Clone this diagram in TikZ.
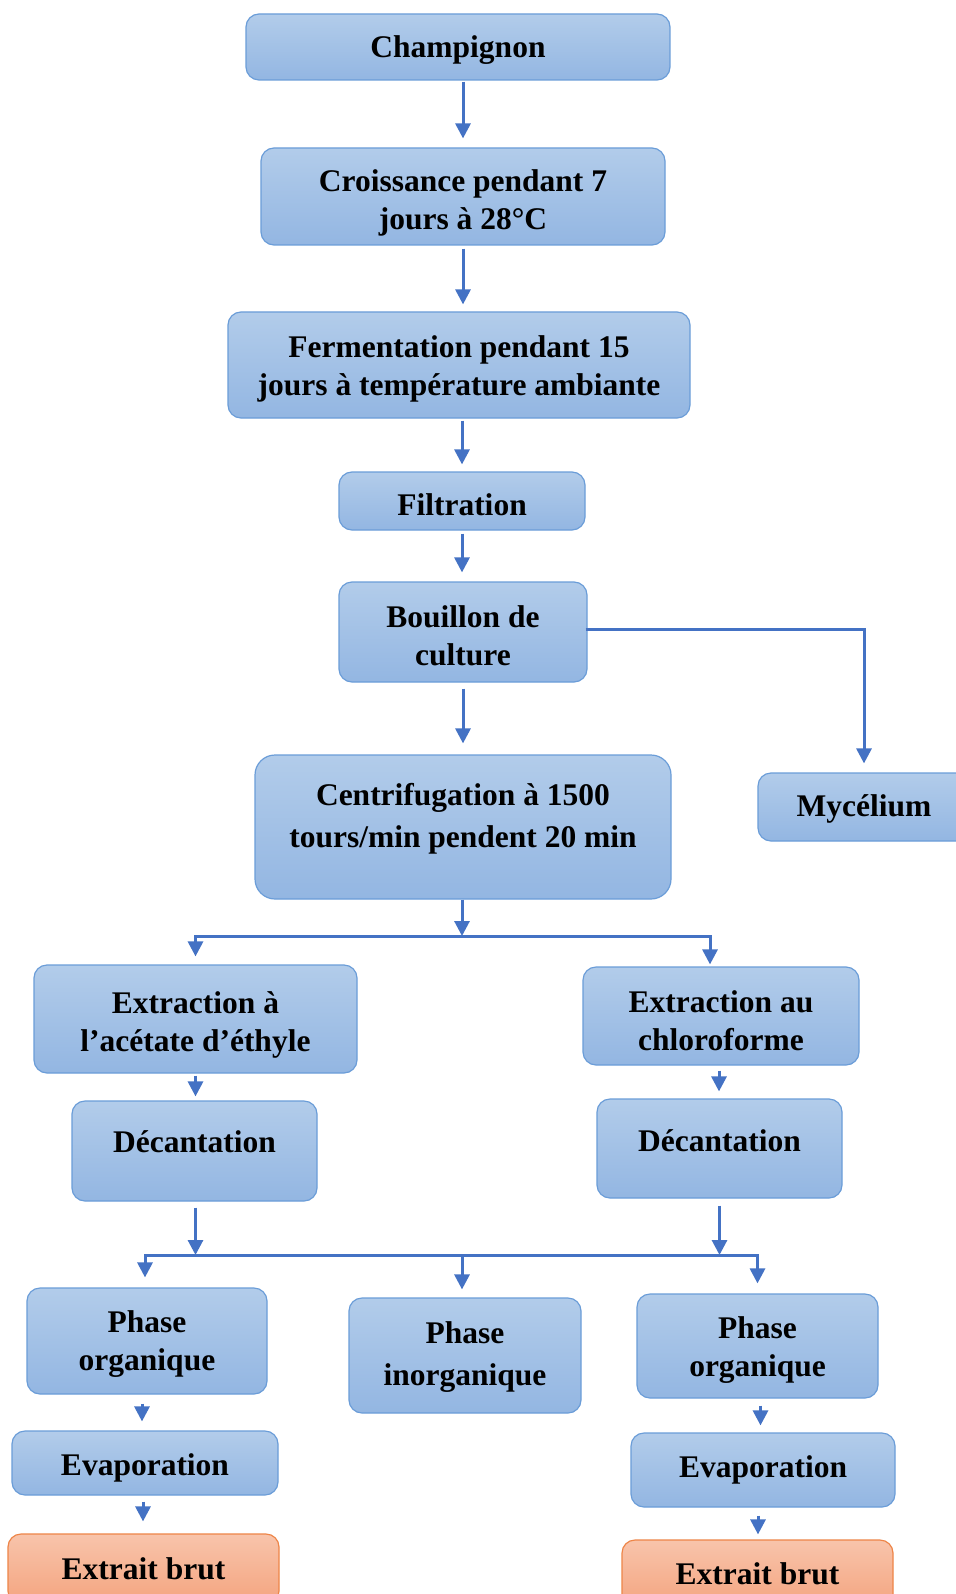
\documentclass[tikz,border=0pt]{standalone}
\usepackage{fontspec}
\setmainfont{Liberation Serif}
\usetikzlibrary{arrows.meta,calc}
\definecolor{btop}{HTML}{B2CCEA}
\definecolor{bbot}{HTML}{93B6E2}
\definecolor{bdraw}{HTML}{6B9DD8}
\definecolor{otop}{HTML}{F8C4AB}
\definecolor{obot}{HTML}{F4A47F}
\definecolor{odraw}{HTML}{EE8548}
\definecolor{arrc}{HTML}{4472C4}
\begin{document}
\begin{tikzpicture}[x=1pt,y=-1pt,
  lbl/.style={font=\fontsize{31.5}{38}\selectfont\bfseries, align=center, inner sep=0pt},
  wide/.style={font=\fontsize{31.5}{42}\selectfont\bfseries},
  box/.style={draw=bdraw, line width=1.2pt, rounded corners=13pt, top color=btop, bottom color=bbot, inner sep=0pt},
  obox/.style={box, draw=odraw, top color=otop, bottom color=obot},
  arr/.style={draw=arrc, line width=3pt, -{Triangle[width=15pt,length=15pt]}}]
\useasboundingbox[fill=white] (0,0) rectangle (955,1594);

\node[box, minimum width=424pt, minimum height=66pt] (champ) at (458,47) {};
\node[lbl] (champt) at ($(champ.center)+(0,3)$) {Champignon};
\node[box, minimum width=404pt, minimum height=97pt] (crois) at (463,196.5) {};
\node[lbl] (croist) at ($(crois.center)+(0,6)$) {Croissance pendant 7\\jours à 28°C};
\node[box, minimum width=462pt, minimum height=106pt] (ferm) at (459,365) {};
\node[lbl] (fermt) at ($(ferm.center)+(0,4)$) {Fermentation pendant 15\\jours à température ambiante};
\node[box, minimum width=246pt, minimum height=58pt] (filt) at (462,501) {};
\node[lbl] (filtt) at ($(filt.center)+(0,4)$) {Filtration};
\node[box, minimum width=248pt, minimum height=100pt] (bouil) at (463,632) {};
\node[lbl] (bouilt) at ($(bouil.center)+(0,4)$) {Bouillon de\\culture};
\node[box, minimum width=416pt, minimum height=144pt, rounded corners=20pt] (centr) at (463,827) {};
\node[lbl, wide] (centrt) at (463,819) {Centrifugation à 1500\\tours/min pendent 20 min};
\node[box, minimum width=212pt, minimum height=68pt] (myc) at (864,807) {};
\node[lbl] (myct) at ($(myc.center)+(0,2)$) {Mycélium};

\node[box, minimum width=323pt, minimum height=108pt] (exa) at (195.5,1019) {};
\node[lbl] (exat) at ($(exa.center)+(0,5.5)$) {Extraction à\\l’acétate d’éthyle};
\node[box, minimum width=276pt, minimum height=98pt] (exc) at (721,1016) {};
\node[lbl] (exct) at ($(exc.center)+(0,5)$) {Extraction au\\chloroforme};
\node[box, minimum width=245pt, minimum height=100pt] (decl) at (194.5,1151) {};
\node[lbl] (declt) at (194.5,1142) {Décantation};
\node[box, minimum width=245pt, minimum height=99pt] (decr) at (719.5,1148.5) {};
\node[lbl] (decrt) at (719.5,1141) {Décantation};

\node[box, minimum width=240pt, minimum height=106pt] (porgl) at (147,1341) {};
\node[lbl] (porglt) at ($(porgl.center)+(0,3)$) {Phase\\organique};
\node[box, minimum width=232pt, minimum height=115pt] (pinorg) at (465,1355.5) {};
\node[lbl, wide] (pinorgt) at ($(pinorg.center)+(0,2)$) {Phase\\inorganique};
\node[box, minimum width=241pt, minimum height=104pt] (porgr) at (757.5,1346) {};
\node[lbl] (porgrt) at ($(porgr.center)+(0,4.5)$) {Phase\\organique};
\node[box, minimum width=266pt, minimum height=64pt] (evl) at (145,1463) {};
\node[lbl] (evlt) at ($(evl.center)+(0,5)$) {Evaporation};
\node[box, minimum width=264pt, minimum height=74pt] (evr) at (763,1470) {};
\node[lbl] (evrt) at (evr.center) {Evaporation};
\node[obox, minimum width=271pt, minimum height=70pt] (exl) at (143.5,1569) {};
\node[lbl] (exlt) at (exl.center) {Extrait brut};
\node[obox, minimum width=271pt, minimum height=68pt] (exr) at (757.5,1574) {};
\node[lbl] (exrt) at (exr.center) {Extrait brut};

\coordinate (j1) at (462,936);
\coordinate (j2) at (462,1255);

\draw[arr, shorten <=1pt, shorten >=9pt] (crois.north |- champ.south) -- (crois.north);
\draw[arr, shorten <=3pt, shorten >=7pt] (crois.south) -- (crois.south |- ferm.north);
\draw[arr, shorten <=2pt, shorten >=7pt] (ferm.south -| filt.north) -- (filt.north);
\draw[arr, shorten <=3pt, shorten >=9pt] (filt.south) -- (filt.south |- bouil.north);
\draw[arr, shorten <=6pt, shorten >=11pt] (bouil.south) -- (bouil.south |- centr.north);
\draw[arr, shorten >=9pt] ([yshift=3pt,xshift=-2pt]bouil.east) -| (myc.north);

\draw[arr] (centr.south -| j1) -- (j1);
\draw[arr, shorten >=8pt] (j1) -| (exa.north);
\draw[arr, shorten >=2pt] (j1) -| ([xshift=-11pt]exc.north);
\draw[arr, shorten <=2pt, shorten >=4pt] (exa.south) -- (exa.south |- decl.north);
\draw[arr, shorten <=5pt, shorten >=7pt] ([xshift=-2pt]exc.south) -- ([xshift=-2pt]exc.south |- decr.north);

\draw[arr, shorten <=6pt] ([xshift=1pt]decl.south) -- ([xshift=1pt]decl.south |- j2);
\draw[arr, shorten <=7pt] (decr.south) -- (decr.south |- j2);
\draw[arr, shorten >=10pt] (j2) -| ([xshift=-2pt]porgl.north);
\draw[arr, shorten >=8pt] (j2) -- (j2 |- pinorg.north);
\draw[arr, shorten >=10pt] (j2) -| (porgr.north);

\draw[arr, shorten <=9pt, shorten >=9pt] ([xshift=-5pt]porgl.south) -- ([xshift=-5pt]porgl.south |- evl.north);
\draw[arr, shorten <=6pt, shorten >=12pt] ([xshift=-2pt]evl.south) -- ([xshift=-2pt]evl.south |- exl.north);
\draw[arr, shorten <=7pt, shorten >=7pt] ([xshift=3pt]porgr.south) -- ([xshift=3pt]porgr.south |- evr.north);
\draw[arr, shorten <=8pt, shorten >=5pt] ([xshift=-5pt]evr.south) -- ([xshift=-5pt]evr.south |- exr.north);
\end{tikzpicture}
\end{document}
